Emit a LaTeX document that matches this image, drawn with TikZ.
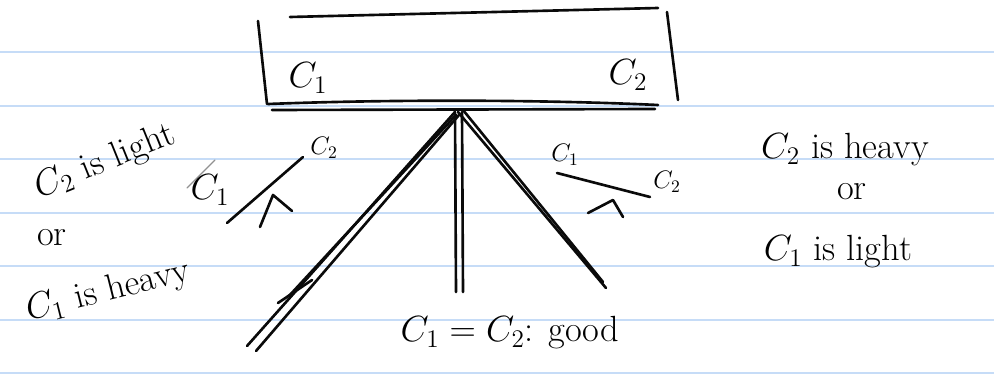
\documentclass[tikz,border=0pt]{standalone}
\usetikzlibrary{calc,positioning}
\definecolor{rule-blue}{HTML}{C6DCF7}
\definecolor{ink}{HTML}{0A0A0A}

\begin{document}
\begin{tikzpicture}[x=0.02cm, y=-0.02cm, line cap=round, line join=round,
  pen/.style={ink, line width=1.5pt},
  faint/.style={ink!45, line width=0.7pt},
  note/.style={font=\huge, inner sep=0pt},
  small/.style={font=\Large, inner sep=0pt}]
\useasboundingbox (0,0) rectangle (994,378);
\foreach \y in {52,106,159,213,266,320,373}
  \draw[rule-blue, line width=1.3pt] (0,\y) -- (994,\y);

\draw[pen] (290,17) -- (658,8);
\draw[pen] (258,21) -- (267,104);
\draw[pen] (667,12) -- (678,100);
\draw[pen] (268,104) .. controls (400,99) and (550,100) .. (658,105);
\draw[pen] (272,110) -- (655,109);
\node[note] (boxc1) at (308,78) {$C_1$};
\node[note] (boxc2) at (628,75) {$C_2$};

\coordinate (pivot) at (455,112);
\coordinate (leftend) at (247,346);
\coordinate (midend) at (456,292);
\coordinate (rightend) at (606,288);
\draw[pen] (pivot) -- (leftend);
\draw[pen] ($(pivot)+(4,3)$) -- ($(leftend)+(9,5)$);
\draw[pen] ($(pivot)+(1,3)$) -- ($(leftend)+(42,-50)$);
\draw[pen] ($(leftend)+(31,-43)$) -- ($(leftend)+(65,-66)$);
\draw[pen] (pivot) -- (midend);
\draw[pen] ($(pivot)+(7,0)$) -- ($(midend)+(7,0)$);
\draw[pen] ($(pivot)+(3,0)$) -- (rightend);
\draw[pen] ($(pivot)+(8,-2)$) -- ($(rightend)+(-3,-6)$);

\coordinate (lbeamA) at (227,223);
\coordinate (lbeamB) at (303,157);
\draw[pen] (lbeamA) -- (lbeamB);
\draw[pen] (260,227) -- (273,195) -- (292,211);
\draw[faint] (187,188) -- (215,160);
\node[note] (lbalc1) at (210,190) {$C_1$};
\node[small] (lbalc2) at (324,148) {$C_2$};

\coordinate (rbeamA) at (557,173);
\coordinate (rbeamB) at (650,197);
\draw[pen] (rbeamA) -- (rbeamB);
\draw[pen] (588,213) -- (613,200) -- (623,217);
\node[small] (rbalc1) at (565,155) {$C_1$};
\node[small] (rbalc2) at (667,182) {$C_2$};

\node[note, rotate=22] (leftup) at (105,162) {$C_2$ is light};
\node[note] (leftor) at (52,238) {or};
\node[note, rotate=14] (leftdown) at (108,292) {$C_1$ is heavy};

\node[note] (rightup) at (845,150) {$C_2$ is heavy};
\node[note] (rightor) at (852,192) {or};
\node[note] (rightdown) at (838,252) {$C_1$ is light};

\node[note] (midtext) at (510,333) {$C_1 = C_2$: good};
\end{tikzpicture}
\end{document}
